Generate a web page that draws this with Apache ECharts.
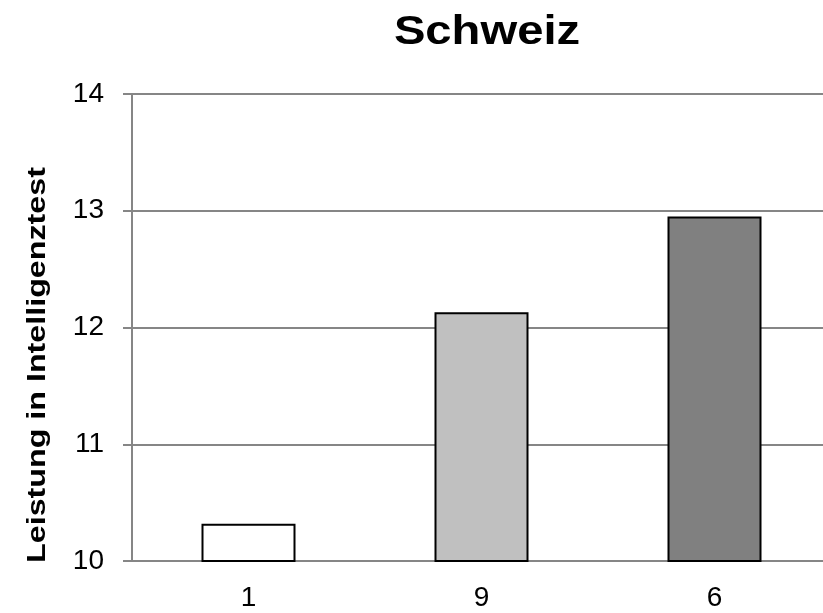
<!DOCTYPE html>
<html>
<head>
<meta charset="utf-8">
<script src="https://cdn.jsdelivr.net/npm/echarts@6/dist/echarts.min.js"></script>
<style>
  html, body { margin: 0; padding: 0; background: #fff; overflow: hidden; }
  #wrap { width: 823px; height: 613px; overflow: hidden; }
  #chart { width: 850px; height: 613px; }
</style>
</head>
<body>
<div id="wrap"><div id="chart"></div></div>
<script>
// Swiss results: mean intelligence-test score per group
const categories = ['1', '9', '6'];
const scores = [10.32, 12.13, 12.95];
const barColors = ['#ffffff', '#c0c0c0', '#808080'];
const yTicks = [10, 11, 12, 13, 14];
const titleText = 'Schweiz';
const yName = 'Leistung in Intelligenztest';

const font = '"Liberation Sans", Arial, sans-serif';
const axisGray = '#868686';

const chart = echarts.init(document.getElementById('chart'), null, { renderer: 'canvas' });

chart.setOption({
  animation: false,
  backgroundColor: '#ffffff',
  graphic: [
    {
      type: 'text',
      x: 487,
      y: 33,
      scaleX: 1.18,
      style: {
        text: titleText,
        fontFamily: font,
        fontSize: 40,
        fontWeight: 'bold',
        fill: '#000',
        align: 'center',
        verticalAlign: 'middle'
      }
    },
    {
      type: 'text',
      x: 38,
      y: 365,
      rotation: Math.PI / 2,
      scaleX: 1.24,
      style: {
        text: yName,
        fontFamily: font,
        fontSize: 26,
        fontWeight: 'bold',
        fill: '#000',
        align: 'center',
        verticalAlign: 'middle'
      }
    }
  ],
  grid: { left: 132, top: 94, width: 699, height: 467, containLabel: false },
  xAxis: {
    type: 'category',
    data: categories,
    axisLine: { lineStyle: { color: axisGray, width: 2 } },
    axisTick: { show: false },
    axisLabel: { fontFamily: font, fontSize: 28, color: '#000', margin: 23 }
  },
  yAxis: {
    type: 'value',
    min: yTicks[0],
    max: yTicks[yTicks.length - 1],
    interval: 1,
    axisLine: { show: true, lineStyle: { color: axisGray, width: 2 } },
    axisTick: { show: true, length: 9, lineStyle: { color: axisGray, width: 2 } },
    axisLabel: { fontFamily: font, fontSize: 28, color: '#000', margin: 28 },
    splitLine: { lineStyle: { color: axisGray, width: 2 } }
  },
  series: [{
    type: 'bar',
    barWidth: 94,
    data: scores.map((v, i) => ({
      value: v,
      itemStyle: { color: barColors[i], borderColor: '#000', borderWidth: 2 }
    }))
  }]
});
</script>
</body>
</html>
